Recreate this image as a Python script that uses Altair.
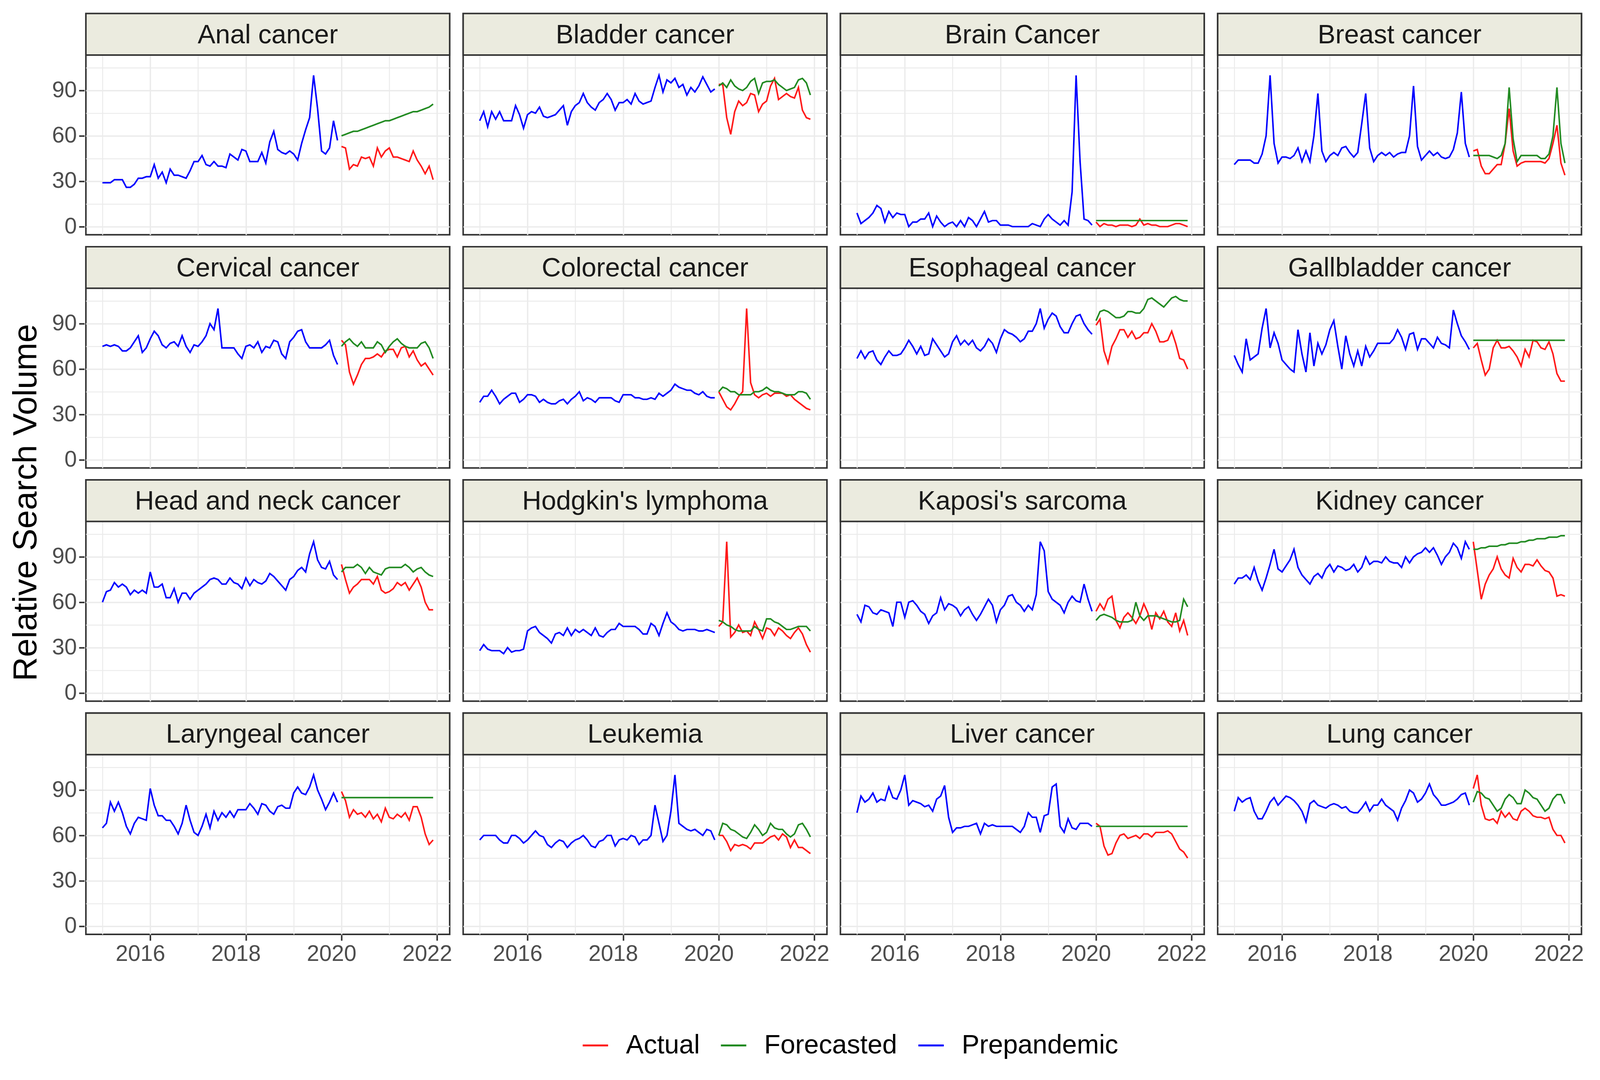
import altair as alt
import pandas as pd

# ---------------- data (monthly, Jan 2015 .. Dec 2021) ----------------
cancers = ["Anal cancer", "Bladder cancer", "Brain Cancer", "Breast cancer",
           "Cervical cancer", "Colorectal cancer", "Esophageal cancer", "Gallbladder cancer",
           "Head and neck cancer", "Hodgkin's lymphoma", "Kaposi's sarcoma", "Kidney cancer",
           "Laryngeal cancer", "Leukemia", "Liver cancer", "Lung cancer"]
series_names = ["Actual", "Forecasted", "Prepandemic"]
series_colors = ["#FF1A1A", "#228B22", "#0000FF"]
years_pre = [2015, 2016, 2017, 2018, 2019]
years_post = [2020, 2021]

anal_pre = [29, 29, 29, 31, 31, 31, 26, 26, 28, 32, 32, 33,
            33, 41, 32, 36, 29, 38, 34, 34, 33, 32, 37, 43,
            43, 47, 41, 40, 43, 40, 40, 39, 48, 46, 44, 51,
            50, 43, 43, 43, 49, 42, 56, 63, 51, 49, 48, 50,
            48, 44, 55, 64, 72, 100, 78, 50, 48, 52, 70, 57]
anal_act = [53, 52, 38, 41, 40, 46, 45, 46, 40, 52, 46, 50,
            52, 46, 46, 45, 44, 43, 50, 44, 40, 35, 40, 31]
anal_fc = [60, 61, 62, 63, 63, 64, 65, 66, 67, 68, 69, 70,
           70, 71, 72, 73, 74, 75, 76, 76, 77, 78, 79, 81]

bladder_pre = [70, 76, 66, 76, 71, 76, 70, 70, 70, 80, 74, 65,
               74, 76, 75, 79, 73, 72, 73, 74, 77, 80, 67, 76,
               80, 82, 88, 82, 79, 77, 82, 84, 88, 84, 77, 82,
               82, 84, 81, 88, 83, 81, 82, 83, 92, 100, 89, 97,
               95, 98, 92, 94, 87, 92, 89, 93, 99, 94, 89, 91]
bladder_act = [94, 94, 72, 61, 76, 83, 80, 82, 88, 87, 76, 81,
               83, 93, 98, 84, 86, 88, 86, 85, 92, 77, 72, 71]
bladder_fc = [93, 95, 92, 97, 93, 91, 90, 92, 96, 98, 88, 95,
              96, 96, 97, 94, 92, 90, 91, 92, 97, 98, 95, 87]

brain_pre = [9, 2, 4, 6, 9, 14, 12, 3, 10, 6, 9, 8,
             8, 0, 3, 3, 5, 5, 9, 0, 7, 3, 0, 2,
             3, 0, 4, 0, 6, 4, 0, 5, 10, 3, 4, 4,
             1, 1, 1, 0, 0, 0, 0, 0, 2, 1, 0, 5,
             8, 5, 3, 1, 4, 1, 23, 100, 43, 5, 4, 1]
brain_act = [3, 0, 2, 1, 1, 0, 1, 1, 1, 0, 1, 5,
             1, 2, 1, 1, 0, 0, 0, 1, 2, 2, 1, 0]
brain_fc = [4, 4, 4, 4, 4, 4, 4, 4, 4, 4, 4, 4,
            4, 4, 4, 4, 4, 4, 4, 4, 4, 4, 4, 4]

breast_pre = [41, 44, 44, 44, 44, 42, 42, 48, 60, 100, 55, 42,
              46, 46, 45, 47, 52, 43, 50, 43, 60, 88, 50, 43,
              47, 49, 47, 52, 53, 49, 46, 49, 68, 88, 52, 43,
              47, 49, 47, 49, 46, 48, 49, 49, 60, 93, 53, 44,
              47, 50, 47, 49, 46, 45, 46, 51, 62, 89, 55, 46]
breast_act = [50, 51, 40, 35, 35, 38, 41, 41, 55, 78, 50, 40,
              42, 43, 43, 43, 43, 43, 42, 45, 55, 67, 42, 34]
breast_fc = [47, 47, 47, 47, 47, 46, 45, 47, 55, 92, 58, 43,
             47, 47, 47, 47, 47, 45, 45, 48, 60, 92, 55, 42]

cervical_pre = [75, 76, 75, 76, 75, 72, 72, 74, 78, 82, 71, 74,
                80, 85, 82, 76, 74, 77, 78, 75, 82, 75, 71, 76,
                75, 78, 82, 90, 86, 100, 74, 74, 74, 74, 70, 67,
                75, 76, 74, 78, 71, 75, 74, 79, 78, 70, 67, 78,
                81, 85, 86, 78, 74, 74, 74, 74, 76, 79, 69, 63]
cervical_act = [79, 76, 58, 50, 56, 63, 67, 67, 68, 70, 68, 72,
                73, 73, 68, 74, 75, 68, 72, 66, 62, 64, 60, 56]
cervical_fc = [75, 78, 80, 77, 75, 78, 74, 74, 74, 78, 76, 71,
               75, 78, 80, 77, 75, 74, 74, 74, 77, 78, 74, 67]

colorectal_pre = [38, 42, 42, 46, 42, 37, 40, 42, 44, 44, 38, 40,
                  43, 43, 42, 38, 40, 38, 37, 37, 39, 40, 37, 40,
                  42, 45, 39, 41, 40, 38, 41, 41, 41, 41, 39, 38,
                  43, 43, 43, 41, 41, 40, 40, 41, 40, 44, 42, 44,
                  46, 50, 48, 47, 46, 46, 44, 43, 45, 42, 41, 41]
colorectal_act = [45, 40, 35, 33, 37, 42, 45, 100, 51, 43, 41, 43,
                  44, 42, 44, 44, 44, 42, 43, 40, 38, 36, 34, 33]
colorectal_fc = [45, 48, 47, 45, 45, 43, 43, 43, 43, 45, 45, 46,
                 48, 46, 45, 45, 44, 43, 43, 43, 45, 45, 44, 40]

esophageal_pre = [67, 72, 67, 71, 72, 66, 63, 68, 72, 69, 69, 70,
                  74, 79, 75, 70, 75, 69, 70, 80, 76, 72, 68, 70,
                  78, 82, 76, 79, 76, 79, 74, 72, 75, 80, 77, 71,
                  80, 86, 84, 83, 81, 78, 80, 85, 85, 90, 100, 87,
                  93, 97, 95, 88, 84, 84, 90, 95, 96, 90, 86, 83]
esophageal_act = [89, 93, 72, 64, 75, 80, 86, 86, 81, 85, 80, 81,
                  84, 84, 90, 85, 78, 78, 79, 85, 77, 67, 66, 60]
esophageal_fc = [92, 98, 99, 98, 96, 94, 94, 95, 98, 98, 97, 97,
                 100, 106, 107, 105, 103, 101, 104, 107, 108, 106, 105, 105]

gallbladder_pre = [69, 63, 58, 80, 66, 68, 70, 87, 100, 74, 84, 77,
                   66, 63, 60, 58, 86, 70, 58, 84, 62, 77, 70, 76,
                   86, 92, 75, 60, 82, 70, 62, 72, 62, 75, 68, 72,
                   77, 77, 77, 77, 80, 86, 81, 73, 83, 84, 73, 80,
                   80, 77, 74, 81, 77, 76, 74, 99, 90, 82, 78, 73]
gallbladder_act = [74, 77, 66, 56, 60, 74, 79, 74, 74, 75, 72, 68,
                   62, 73, 68, 79, 78, 74, 73, 78, 70, 57, 52, 52]
gallbladder_fc = [79, 79, 79, 79, 79, 79, 79, 79, 79, 79, 79, 79,
                  79, 79, 79, 79, 79, 79, 79, 79, 79, 79, 79, 79]

headneck_pre = [60, 67, 68, 73, 70, 72, 70, 65, 68, 66, 68, 66,
                80, 70, 70, 72, 63, 63, 69, 60, 66, 66, 62, 66,
                68, 70, 72, 75, 76, 75, 72, 72, 76, 73, 72, 69,
                76, 71, 75, 73, 72, 74, 79, 77, 74, 71, 68, 75,
                77, 81, 83, 80, 92, 100, 88, 83, 82, 87, 78, 75]
headneck_act = [85, 75, 66, 70, 72, 75, 75, 75, 72, 77, 68, 66,
                67, 69, 73, 71, 73, 68, 72, 76, 70, 60, 55, 55]
headneck_fc = [80, 83, 83, 83, 85, 83, 79, 83, 80, 79, 78, 82,
               83, 83, 83, 83, 85, 83, 80, 82, 83, 80, 78, 77]

hodgkin_pre = [28, 32, 29, 28, 28, 28, 26, 30, 27, 28, 28, 29,
               41, 43, 44, 40, 38, 36, 33, 39, 40, 38, 43, 38,
               42, 40, 42, 40, 38, 43, 38, 37, 40, 42, 42, 46,
               44, 44, 44, 44, 42, 39, 39, 46, 44, 38, 46, 53,
               47, 45, 42, 41, 42, 42, 42, 41, 41, 42, 41, 40]
hodgkin_act = [44, 47, 100, 37, 40, 45, 40, 41, 38, 47, 42, 36,
               43, 42, 38, 43, 41, 38, 36, 40, 43, 39, 32, 27]
hodgkin_fc = [48, 47, 45, 44, 42, 41, 41, 41, 41, 44, 42, 41,
              49, 49, 47, 46, 44, 42, 42, 43, 44, 44, 44, 41]

kaposi_pre = [52, 47, 58, 57, 53, 52, 55, 54, 53, 44, 60, 60,
              50, 60, 61, 58, 54, 52, 46, 51, 53, 63, 55, 59,
              58, 56, 51, 55, 57, 52, 48, 52, 57, 62, 58, 47,
              55, 58, 64, 65, 60, 58, 54, 58, 55, 65, 100, 94,
              67, 62, 60, 58, 53, 60, 64, 61, 60, 72, 62, 54]
kaposi_act = [54, 59, 55, 62, 64, 48, 43, 50, 53, 50, 46, 51,
              59, 53, 42, 53, 49, 54, 47, 44, 53, 41, 48, 38]
kaposi_fc = [48, 51, 52, 51, 50, 48, 47, 47, 47, 48, 60, 51,
             48, 51, 51, 51, 50, 49, 48, 47, 47, 48, 62, 57]

kidney_pre = [72, 76, 76, 78, 75, 83, 74, 68, 76, 85, 95, 82,
              80, 84, 88, 95, 83, 78, 75, 72, 77, 79, 76, 82,
              85, 80, 84, 83, 81, 82, 85, 80, 83, 90, 85, 87,
              87, 86, 90, 87, 86, 86, 83, 90, 86, 90, 92, 93,
              96, 93, 96, 91, 85, 90, 93, 99, 96, 89, 100, 95]
kidney_act = [100, 81, 62, 72, 78, 82, 90, 82, 78, 76, 89, 83,
              80, 85, 85, 84, 88, 84, 81, 80, 76, 64, 65, 64]
kidney_fc = [95, 95, 96, 96, 97, 97, 97, 98, 98, 99, 99, 99,
             100, 100, 101, 101, 102, 102, 102, 103, 103, 103, 104, 104]

laryngeal_pre = [65, 68, 82, 76, 82, 75, 66, 61, 68, 72, 71, 70,
                 91, 80, 73, 73, 70, 70, 66, 61, 68, 80, 70, 62,
                 60, 66, 74, 65, 76, 70, 75, 72, 76, 72, 77, 77,
                 77, 81, 78, 74, 81, 80, 76, 74, 79, 80, 78, 78,
                 88, 92, 88, 87, 92, 100, 90, 84, 77, 82, 88, 82]
laryngeal_act = [89, 83, 72, 77, 74, 75, 72, 76, 71, 74, 69, 78,
                 72, 71, 74, 72, 75, 70, 79, 79, 72, 61, 54, 57]
laryngeal_fc = [85, 85, 85, 85, 85, 85, 85, 85, 85, 85, 85, 85,
                85, 85, 85, 85, 85, 85, 85, 85, 85, 85, 85, 85]

leukemia_pre = [57, 60, 60, 60, 60, 57, 55, 55, 60, 60, 58, 55,
                57, 60, 63, 60, 59, 54, 52, 55, 57, 56, 52, 55,
                57, 58, 60, 57, 53, 52, 56, 57, 60, 60, 53, 57,
                58, 57, 60, 59, 54, 57, 57, 60, 80, 68, 56, 60,
                76, 100, 68, 66, 64, 63, 64, 62, 60, 64, 63, 57]
leukemia_act = [60, 60, 56, 50, 54, 53, 54, 53, 51, 55, 55, 55,
                57, 59, 60, 57, 61, 59, 52, 57, 52, 52, 50, 48]
leukemia_fc = [60, 68, 67, 64, 63, 61, 59, 58, 62, 67, 64, 60,
               62, 68, 65, 64, 64, 61, 59, 61, 67, 68, 64, 59]

liver_pre = [75, 86, 82, 84, 88, 82, 84, 83, 92, 85, 84, 90,
             100, 80, 83, 82, 81, 79, 80, 76, 84, 86, 93, 72,
             62, 65, 65, 66, 66, 67, 68, 61, 68, 66, 67, 66,
             66, 66, 66, 66, 64, 62, 66, 75, 72, 72, 62, 73,
             74, 92, 94, 66, 62, 71, 65, 64, 68, 68, 68, 66]
liver_act = [68, 66, 53, 47, 48, 55, 60, 61, 58, 59, 60, 58,
             61, 61, 59, 62, 62, 62, 63, 61, 56, 51, 49, 45]
liver_fc = [66, 66, 66, 66, 66, 66, 66, 66, 66, 66, 66, 66,
            66, 66, 66, 66, 66, 66, 66, 66, 66, 66, 66, 66]

lung_pre = [76, 85, 82, 84, 85, 76, 71, 71, 76, 82, 85, 80,
            83, 86, 85, 83, 80, 76, 69, 81, 83, 80, 79, 78,
            80, 81, 80, 78, 79, 76, 75, 75, 78, 82, 76, 80,
            80, 84, 80, 78, 76, 70, 78, 83, 90, 88, 82, 84,
            88, 94, 87, 84, 80, 80, 81, 82, 84, 87, 88, 80]
lung_act = [91, 100, 80, 71, 70, 71, 68, 76, 72, 75, 71, 70,
            76, 78, 76, 73, 72, 72, 71, 72, 64, 60, 60, 55]
lung_fc = [82, 89, 88, 85, 84, 80, 76, 78, 84, 87, 85, 81,
           81, 90, 88, 85, 84, 80, 76, 78, 84, 87, 87, 81]

panel_series = {
    "Anal cancer": (anal_pre, anal_act, anal_fc),
    "Bladder cancer": (bladder_pre, bladder_act, bladder_fc),
    "Brain Cancer": (brain_pre, brain_act, brain_fc),
    "Breast cancer": (breast_pre, breast_act, breast_fc),
    "Cervical cancer": (cervical_pre, cervical_act, cervical_fc),
    "Colorectal cancer": (colorectal_pre, colorectal_act, colorectal_fc),
    "Esophageal cancer": (esophageal_pre, esophageal_act, esophageal_fc),
    "Gallbladder cancer": (gallbladder_pre, gallbladder_act, gallbladder_fc),
    "Head and neck cancer": (headneck_pre, headneck_act, headneck_fc),
    "Hodgkin's lymphoma": (hodgkin_pre, hodgkin_act, hodgkin_fc),
    "Kaposi's sarcoma": (kaposi_pre, kaposi_act, kaposi_fc),
    "Kidney cancer": (kidney_pre, kidney_act, kidney_fc),
    "Laryngeal cancer": (laryngeal_pre, laryngeal_act, laryngeal_fc),
    "Leukemia": (leukemia_pre, leukemia_act, leukemia_fc),
    "Liver cancer": (liver_pre, liver_act, liver_fc),
    "Lung cancer": (lung_pre, lung_act, lung_fc),
}

rows = []
for name in cancers:
    pre, act, fc = panel_series[name]
    for i, v in enumerate(pre):
        rows.append({"cancer": name, "series": "Prepandemic", "m": i,
                     "t": years_pre[0] + i / 12.0, "value": v})
    for i, v in enumerate(act):
        rows.append({"cancer": name, "series": "Actual", "m": 60 + i,
                     "t": years_post[0] + i / 12.0, "value": v})
    for i, v in enumerate(fc):
        rows.append({"cancer": name, "series": "Forecasted", "m": 60 + i,
                     "t": years_post[0] + i / 12.0, "value": v})
df = pd.DataFrame(rows)

# ---------------- layout / style ----------------
FONT = "Liberation Sans"
W, H = 945, 575          # panel incl. strip
STRIP = 108
Y_LO, Y_HI = -5.4, 113.4
Y_TOP = Y_HI + STRIP * (Y_HI - Y_LO) / (H - STRIP)
X_LO, X_HI = 2014.654, 2022.263
STRIP_FILL = "#EBEBDF"
BORDER = "#333333"

x_enc = alt.X("t:Q", title=None,
              scale=alt.Scale(domain=[X_LO, X_HI], nice=False, zero=False),
              axis=alt.Axis(values=[2015, 2016, 2017, 2018, 2019, 2020, 2021, 2022],
                            format="d",
                            labelExpr="datum.value % 2 == 0 ? datum.label : ''",
                            tickOpacity={"condition": {"test": "datum.value % 2 == 0", "value": 1}, "value": 0},
                            gridWidth={"condition": {"test": "datum.value % 2 == 0", "value": 3.5}, "value": 2.5},
                            labelFlush=False, labelOverlap=False, labelOffset=-26,
                            labelPadding=7))
y_enc = alt.Y("value:Q", title=None,
              scale=alt.Scale(domain=[Y_LO, Y_TOP], nice=False, zero=False),
              axis=alt.Axis(values=[0, 15, 30, 45, 60, 75, 90, 105],
                            labelExpr="datum.value % 30 == 0 ? datum.label : ''",
                            tickOpacity={"condition": {"test": "datum.value % 30 == 0", "value": 1}, "value": 0},
                            gridWidth={"condition": {"test": "datum.value % 30 == 0", "value": 3.5}, "value": 2.5},
                            labelFlush=False, labelOverlap=False, labelPadding=6))
color_enc = alt.Color("series:N",
                      scale=alt.Scale(domain=series_names, range=series_colors),
                      legend=alt.Legend(title=None, orient="none", direction="horizontal",
                                        columns=3, legendX=1288, legendY=2646,
                                        symbolType="stroke", symbolSize=4356,
                                        symbolStrokeWidth=5, labelFontSize=69,
                                        labelFont=FONT, labelColor="#000000",
                                        labelOffset=44, columnPadding=44,
                                        labelLimit=600))

base = alt.Chart()
line_layers = [
    base.mark_line(strokeWidth=4, clip=True)
        .encode(x=x_enc, y=y_enc, color=color_enc)
        .transform_filter(alt.datum.series == s)
    for s in series_names
]
one_per_panel = (alt.datum.m == 0) & (alt.datum.series == "Prepandemic")
strip_rect = (base.mark_rect(fill=STRIP_FILL, stroke=BORDER, strokeWidth=4)
              .encode(x=alt.value(0), x2=alt.value(W), y=alt.value(0), y2=alt.value(STRIP))
              .transform_filter(one_per_panel))
strip_text = (base.mark_text(font=FONT, fontSize=69, color="#1A1A1A",
                             align="center", baseline="middle")
              .encode(x=alt.value(W / 2), y=alt.value(STRIP / 2 + 2), text="cancer:N")
              .transform_filter(one_per_panel))

panel = alt.layer(*line_layers, strip_rect, strip_text).properties(width=W, height=H)

chart = (panel.facet(facet=alt.Facet("cancer:N", sort=cancers, title=None,
                                     header=alt.Header(labels=False, labelExpr="''",
                                                       labelFontSize=1, labelPadding=0)),
                     columns=4, data=df, spacing={"row": 24, "column": 27})
         .properties(
             padding={"left": 16, "top": 2, "right": 34, "bottom": 0},
             title=alt.TitleParams("Relative Search Volume", orient="left", anchor="middle",
                                   font=FONT, fontSize=87, fontWeight="normal",
                                   color="#000000", offset=22, dx=85))
         .configure_header(labels=False, labelFontSize=1, labelPadding=0)
         .configure_view(stroke=BORDER, strokeWidth=4)
         .configure_axis(gridColor="#EBEBEB", domain=False,
                         labelFont=FONT, labelFontSize=58, labelColor="#4D4D4D",
                         tickColor=BORDER, tickWidth=4, tickSize=14)
         .configure_title(font=FONT))

chart.save("out.html", embed_options={"renderer": "svg", "actions": False})
